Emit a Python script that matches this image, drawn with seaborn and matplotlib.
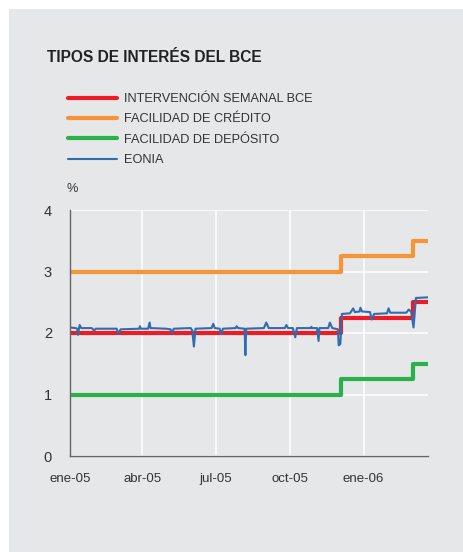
import matplotlib
matplotlib.use("Agg")
import matplotlib.pyplot as plt
from matplotlib.patches import Rectangle
import seaborn as sns
import pandas as pd

# ---- data ----
policy_dates = ["2005-01-01", "2005-12-04", "2006-03-03", "2006-03-22"]
intervencion = [2.00, 2.25, 2.50, 2.50]
credito = [3.00, 3.25, 3.50, 3.50]
deposito = [1.00, 1.25, 1.50, 1.50]

eonia_dates = [
    "2005-01-01", "2005-01-08", "2005-01-10", "2005-01-11", "2005-01-12", "2005-01-13",
    "2005-01-15", "2005-01-28", "2005-01-31", "2005-02-02", "2005-02-28", "2005-03-02",
    "2005-03-05", "2005-03-28", "2005-03-29", "2005-03-30", "2005-04-08", "2005-04-10",
    "2005-04-11", "2005-04-30", "2005-05-06", "2005-05-08", "2005-05-10", "2005-05-31",
    "2005-06-02", "2005-06-04", "2005-06-06", "2005-06-26", "2005-06-28", "2005-06-30",
    "2005-07-06", "2005-07-08", "2005-07-10", "2005-07-26", "2005-07-27", "2005-07-29",
    "2005-08-06", "2005-08-07", "2005-08-08", "2005-08-30", "2005-09-02", "2005-09-05",
    "2005-09-25", "2005-09-27", "2005-09-29", "2005-10-05", "2005-10-08", "2005-10-10",
    "2005-10-27", "2005-10-28", "2005-10-29", "2005-11-04", "2005-11-06", "2005-11-07",
    "2005-11-18", "2005-11-20", "2005-11-23", "2005-11-30", "2005-12-01", "2005-12-03",
    "2005-12-05", "2005-12-15", "2005-12-19", "2005-12-21", "2005-12-27", "2005-12-28",
    "2005-12-30", "2006-01-09", "2006-01-11", "2006-01-14", "2006-01-30", "2006-02-01",
    "2006-02-03", "2006-02-23", "2006-02-26", "2006-03-01", "2006-03-04", "2006-03-07",
    "2006-03-22",
]
eonia = [
    2.09, 2.08, 2.07, 1.97, 2.06, 2.13,
    2.08, 2.08, 2.04, 2.07, 2.07, 1.99,
    2.06, 2.07, 2.11, 2.07, 2.07, 2.17,
    2.08, 2.07, 2.06, 2.00, 2.07, 2.08,
    2.04, 1.78, 2.07, 2.08, 2.15, 2.08,
    2.07, 1.98, 2.07, 2.08, 2.11, 2.08,
    2.07, 1.64, 2.07, 2.08, 2.17, 2.08,
    2.08, 2.13, 2.08, 2.08, 1.93, 2.08,
    2.08, 2.10, 2.08, 2.08, 1.87, 2.08,
    2.08, 2.17, 2.08, 2.06, 1.80, 1.82,
    2.31, 2.32, 2.40, 2.34, 2.35, 2.41,
    2.35, 2.34, 2.22, 2.31, 2.32, 2.40,
    2.33, 2.33, 2.38, 2.35, 2.09, 2.57,
    2.58,
]

tick_dates = ["2005-01-01", "2005-04-01", "2005-07-01", "2005-10-01", "2006-01-01"]
tick_labels = ["ene-05", "abr-05", "jul-05", "oct-05", "ene-06"]
y_ticks = [0, 1, 2, 3, 4]

labels = ["INTERVENCIÓN SEMANAL BCE", "FACILIDAD DE CRÉDITO", "FACILIDAD DE DEPÓSITO", "EONIA"]
colors = ["#ed1c24", "#f7943a", "#2bb14c", "#2e6db2"]

# ---- style ----
GREY = "#e6e7e8"
sns.set_theme(style="darkgrid", rc={
    "axes.facecolor": GREY,
    "grid.color": "white",
    "grid.linewidth": 1.1,
    "axes.edgecolor": "#666666",
})
plt.rcParams["font.family"] = ["Liberation Sans", "DejaVu Sans"]

W, H = 464, 552
fig = plt.figure(figsize=(W / 100, H / 100), dpi=100)
fig.patch.set_facecolor("white")
fig.patches.append(Rectangle((9 / W, 0), 1, 1 - 9 / H, transform=fig.transFigure,
                             facecolor=GREY, edgecolor="none", zorder=-10))

ax = fig.add_axes([70 / W, (H - 456) / H, (428 - 70) / W, (456 - 210) / H])

pol = pd.DataFrame({
    "fecha": pd.to_datetime(policy_dates),
    "intervencion": intervencion,
    "credito": credito,
    "deposito": deposito,
})
eo = pd.DataFrame({"fecha": pd.to_datetime(eonia_dates), "eonia": eonia})

sns.lineplot(data=pol, x="fecha", y="credito", ax=ax, color=colors[1], lw=3.0,
             drawstyle="steps-post", legend=False)
sns.lineplot(data=pol, x="fecha", y="deposito", ax=ax, color=colors[2], lw=3.0,
             drawstyle="steps-post", legend=False)
sns.lineplot(data=pol, x="fecha", y="intervencion", ax=ax, color=colors[0], lw=3.0,
             drawstyle="steps-post", legend=False)
sns.lineplot(data=eo, x="fecha", y="eonia", ax=ax, color=colors[3], lw=1.5, legend=False)

l_cred, l_dep, l_int, l_eo = ax.lines[:4]

ax.set_xlim(pd.Timestamp("2005-01-01"), pd.Timestamp("2006-03-22"))
ax.set_ylim(0, 4)
ax.set_yticks(y_ticks)
ax.set_yticklabels([str(v) for v in y_ticks])
ax.set_xticks(pd.to_datetime(tick_dates))
ax.set_xticklabels(tick_labels)
ax.set_xlabel("")
ax.set_ylabel("")
ax.tick_params(axis="y", length=0, pad=13, labelsize=10.5, labelcolor="#333333")
ax.tick_params(axis="x", length=0, pad=12, labelsize=9.5, labelcolor="#333333")
for s in ["top", "right"]:
    ax.spines[s].set_visible(False)
for s in ["left", "bottom"]:
    ax.spines[s].set_visible(True)
    ax.spines[s].set_color("#666666")
    ax.spines[s].set_linewidth(1.0)
ax.grid(True, color="white", lw=1.1)

fig.text(47 / W, 1 - 62 / H, "TIPOS DE INTERÉS DEL BCE", fontsize=11.2, fontweight="bold",
         color="#222222", va="baseline", ha="left")
fig.text(67 / W, 1 - 192 / H, "%", fontsize=9.2, color="#333333", va="baseline", ha="left")

leg = fig.legend([l_int, l_cred, l_dep, l_eo], labels, loc="upper left",
                 bbox_to_anchor=(68 / W, 1 - 93 / H), frameon=False, fontsize=9.2,
                 handlelength=3.84, handletextpad=0.55, labelspacing=0.66, borderpad=0,
                 borderaxespad=0, labelcolor="#333333")
for i, h in enumerate(leg.get_lines()):
    h.set_linewidth(3.0 if i < 3 else 1.5)

fig.savefig("out.png", dpi=100)
